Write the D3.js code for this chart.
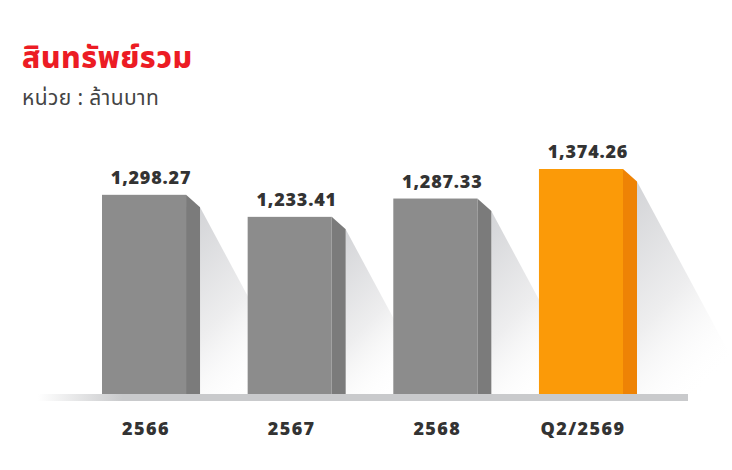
<!DOCTYPE html>
<html>
<head>
<meta charset="utf-8">
<script src="https://cdn.jsdelivr.net/npm/d3@7"></script>
<style>
  html, body { margin: 0; padding: 0; background: #ffffff; }
  svg { display: block; }
</style>
</head>
<body>
<div id="chart"></div>
<script>
// ---- data ----
const categories = ["2566", "2567", "2568", "Q2/2569"];
const values = [1298.27, 1233.41, 1287.33, 1374.26];
const valueLabels = ["1,298.27", "1,233.41", "1,287.33", "1,374.26"];
const highlight = [false, false, false, true];
const titleText = "สินทรัพย์รวม";
const subtitleText = "หน่วย : ล้านบาท";

// ---- layout ----
const W = 732, H = 470;
const baseY = 394;
const sideW = 14, sideDrop = 12.5;

const svg = d3.select("#chart").append("svg")
  .attr("width", W).attr("height", H);

const defs = svg.append("defs");
const sg = defs.append("linearGradient").attr("id", "shadowGrad")
  .attr("x1", 0).attr("y1", 0).attr("x2", 0.55).attr("y2", 1);
sg.append("stop").attr("offset", 0).attr("stop-color", "#d3d4d7");
sg.append("stop").attr("offset", 0.55).attr("stop-color", "#eeeeef");
sg.append("stop").attr("offset", 1).attr("stop-color", "#ffffff").attr("stop-opacity", 0);

const bg = defs.append("linearGradient").attr("id", "baseGrad")
  .attr("x1", 0).attr("y1", 0).attr("x2", 1).attr("y2", 0);
bg.append("stop").attr("offset", 0).attr("stop-color", "#ffffff");
bg.append("stop").attr("offset", 0.13).attr("stop-color", "#c9cacc");
bg.append("stop").attr("offset", 1).attr("stop-color", "#c9cacc");

const x = d3.scaleBand().domain(categories)
  .range([102, 623]).paddingInner(0.423).paddingOuter(0);
const y = d3.scaleLinear().domain([712, 1374.26]).range([baseY, 169]);

const data = categories.map((c, i) => ({ c, v: values[i], label: valueLabels[i], hi: highlight[i] }));

// shadows
svg.append("g").selectAll("path").data(data).join("path")
  .attr("d", d => {
    const xr = x(d.c) + x.bandwidth() + sideW;
    const yt = y(d.v) + sideDrop;
    const xb = xr + (baseY - yt) / 1.86;
    return `M${xr},${yt} L${xb},${baseY} L${xr},${baseY} Z`;
  })
  .attr("fill", "url(#shadowGrad)");

// baseline
svg.append("rect").attr("x", 38).attr("y", baseY).attr("width", 650).attr("height", 7)
  .attr("fill", "url(#baseGrad)");

const bars = svg.append("g").selectAll("g").data(data).join("g");
// side face
bars.append("path")
  .attr("d", d => {
    const xl = x(d.c) + x.bandwidth();
    const xr = xl + sideW;
    const yt = y(d.v);
    return `M${xl},${yt} L${xr},${yt + sideDrop} L${xr},${baseY} L${xl},${baseY} Z`;
  })
  .attr("fill", d => d.hi ? "#ee8305" : "#7b7b7b");
// front face
bars.append("rect")
  .attr("x", d => x(d.c)).attr("y", d => y(d.v))
  .attr("width", x.bandwidth()).attr("height", d => baseY - y(d.v))
  .attr("fill", d => d.hi ? "#fb9a08" : "#8c8c8c");

// value labels
bars.append("text")
  .attr("x", d => x(d.c) + (x.bandwidth() + sideW) / 2)
  .attr("y", d => y(d.v) - 11)
  .attr("text-anchor", "middle")
  .attr("font-family", "'Open Sans', sans-serif")
  .attr("font-weight", 800)
  .attr("font-size", 18)
  .attr("letter-spacing", 0.8)
  .attr("fill", "#333333")
  .text(d => d.label);

// category labels
svg.append("g").selectAll("text").data(data).join("text")
  .attr("x", d => x(d.c) + x.bandwidth() / 2 + 2)
  .attr("y", 435)
  .attr("text-anchor", "middle")
  .attr("font-family", "'Open Sans', sans-serif")
  .attr("font-weight", 800)
  .attr("font-size", 18)
  .attr("letter-spacing", 1.4)
  .attr("fill", "#333333")
  .text(d => d.c);

// title
svg.append("text").attr("x", 22).attr("y", 68)
  .attr("font-family", "'Noto Sans Thai', 'Noto Sans', sans-serif")
  .attr("font-weight", 800).attr("font-size", 30)
  .attr("letter-spacing", 0.6)
  .attr("fill", "#ec1c24").text(titleText);
svg.append("text").attr("x", 22).attr("y", 105)
  .attr("font-family", "'Noto Sans Thai', 'Noto Sans', sans-serif")
  .attr("font-weight", 400).attr("font-size", 21)
  .attr("letter-spacing", 0.4)
  .attr("fill", "#444444").text(subtitleText);
</script>
</body>
</html>
